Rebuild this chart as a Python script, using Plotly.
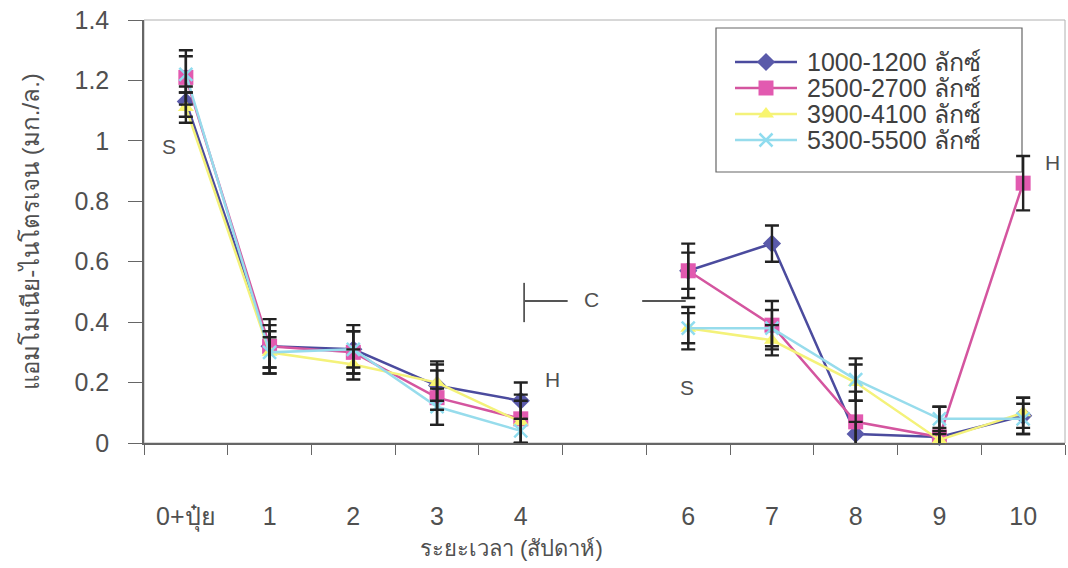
import plotly.graph_objects as go

categories = ["0+ปุ๋ย", "1", "2", "3", "4", "", "6", "7", "8", "9", "10"]
x_pos = list(range(len(categories)))

series_names = ["1000-1200 ลักซ์", "2500-2700 ลักซ์", "3900-4100 ลักซ์", "5300-5500 ลักซ์"]

s1 = [1.13, 0.32, 0.31, 0.19, 0.14, None, 0.57, 0.66, 0.03, 0.02, 0.09]
s2 = [1.21, 0.32, 0.30, 0.15, 0.08, None, 0.57, 0.39, 0.07, 0.02, 0.86]
s3 = [1.11, 0.30, 0.26, 0.20, 0.07, None, 0.38, 0.34, 0.20, 0.01, 0.10]
s4 = [1.22, 0.30, 0.31, 0.12, 0.04, None, 0.38, 0.38, 0.21, 0.08, 0.08]

e1 = [0.05, 0.07, 0.08, 0.08, 0.06, None, 0.09, 0.06, 0.04, 0.03, 0.06]
e2 = [0.09, 0.09, 0.07, 0.09, 0.08, None, 0.06, 0.08, 0.10, 0.10, 0.09]
e3 = [0.05, 0.05, 0.05, 0.06, 0.07, None, 0.05, 0.05, 0.06, 0.02, 0.05]
e4 = [0.06, 0.07, 0.06, 0.06, 0.04, None, 0.07, 0.06, 0.07, 0.04, 0.05]

y_ticks = [0, 0.2, 0.4, 0.6, 0.8, 1.0, 1.2, 1.4]
y_tick_text = ["0", "0.2", "0.4", "0.6", "0.8", "1", "1.2", "1.4"]

values = [s1, s2, s3, s4]
errors = [e1, e2, e3, e4]
line_colors = ["#4b4b9e", "#d4559f", "#f4f27a", "#97dcec"]
marker_colors = ["#5a5aaa", "#e25ab0", "#f8f570", "#8fdcef"]
symbols = ["diamond", "square", "triangle-up", "x-thin"]
msizes = [14, 15, 14, 13]

# annotation labels: (text, x, y)
notes = [("S", -0.2, 0.98), ("H", 4.38, 0.21), ("S", 5.99, 0.185), ("H", 10.35, 0.93), ("C", 4.84, 0.475)]
bracket_y = 0.47
bracket_left = [4.04, 4.56]
bracket_right = [5.45, 5.97]
bracket_v = [0.40, 0.53]

# plot-area pixel geometry
W, H = 1068, 568
ML, MR, MT, MB = 144, 3, 20, 125
PW, PH = W - ML - MR, H - MT - MB

# manual legend geometry (pixels)
leg_box = (716, 1022, 28, 172)
leg_rows = [62, 88, 114, 140]
leg_line = (735, 797)
leg_text_x = 805

def px_x(p):
    return (p - ML) / PW

def px_y(p):
    return (H - MB - p) / PH

TXT = "#505050"
FONT = "Liberation Sans, Arial, sans-serif"

fig = go.Figure()
for name, v, lc, mc, sym, ms in zip(series_names, values, line_colors, marker_colors, symbols, msizes):
    if sym == "x-thin":
        marker = dict(symbol=sym, size=ms, color=mc, line=dict(color=mc, width=2.5))
    else:
        marker = dict(symbol=sym, size=ms, color=mc, line=dict(width=0))
    fig.add_trace(go.Scatter(
        x=x_pos, y=v, name=name, mode="lines+markers",
        line=dict(color=lc, width=2.5), marker=marker,
        connectgaps=False, cliponaxis=False, showlegend=False,
    ))

for v, e in zip(values, errors):
    fig.add_trace(go.Scatter(
        x=x_pos, y=v, mode="markers", showlegend=False, hoverinfo="skip",
        marker=dict(size=1, opacity=0),
        error_y=dict(type="data", array=e, visible=True, color="#222222", thickness=2.4, width=7),
        cliponaxis=False,
    ))

# legend samples on an overlay axis in plot-area fractions
for i, (name, lc, mc, sym, ms) in enumerate(zip(series_names, line_colors, marker_colors, symbols, msizes)):
    yy = px_y(leg_rows[i])
    x0, x1 = px_x(leg_line[0]), px_x(leg_line[1])
    if sym == "x-thin":
        marker = dict(symbol=sym, size=ms, color=mc, line=dict(color=mc, width=2.5))
    else:
        marker = dict(symbol=sym, size=ms, color=mc, line=dict(width=0))
    fig.add_trace(go.Scatter(
        x=[x0, x1], y=[yy, yy], mode="lines",
        line=dict(color=lc, width=2.5), xaxis="x2", yaxis="y2",
        showlegend=False, hoverinfo="skip", cliponaxis=False,
    ))
    fig.add_trace(go.Scatter(
        x=[(x0 + x1) / 2], y=[yy], mode="markers", marker=marker,
        xaxis="x2", yaxis="y2", showlegend=False, hoverinfo="skip", cliponaxis=False,
    ))
    fig.add_annotation(xref="paper", yref="paper", x=px_x(leg_text_x), y=yy, text=name,
                       xanchor="left", yanchor="middle", showarrow=False,
                       font=dict(size=25, color="#404040", family=FONT))

fig.add_shape(type="rect", xref="paper", yref="paper",
              x0=px_x(leg_box[0]), x1=px_x(leg_box[1]), y0=px_y(leg_box[3]), y1=px_y(leg_box[2]),
              line=dict(color="#666666", width=1.2), fillcolor="white", layer="below")

for t, xx, yy in notes:
    fig.add_annotation(x=xx, y=yy, text=t, showarrow=False,
                       font=dict(size=21, color=TXT, family=FONT))

line_style = dict(color="#555555", width=1.8)
fig.add_shape(type="line", x0=bracket_left[0], x1=bracket_left[1], y0=bracket_y, y1=bracket_y, line=line_style)
fig.add_shape(type="line", x0=bracket_right[0], x1=bracket_right[1], y0=bracket_y, y1=bracket_y, line=line_style)
fig.add_shape(type="line", x0=bracket_left[0], x1=bracket_left[0], y0=bracket_v[0], y1=bracket_v[1], line=line_style)

fig.add_shape(type="rect", xref="paper", yref="paper", x0=0, x1=1, y0=0, y1=1,
              line=dict(color="#b0b0b0", width=1), layer="below")

fig.add_annotation(xref="paper", yref="paper", x=px_x(511), y=px_y(548), text="ระยะเวลา (สัปดาห์)",
                   showarrow=False, yanchor="middle", font=dict(size=22, color=TXT, family=FONT))

fig.update_layout(
    width=W, height=H,
    margin=dict(l=ML, r=MR, t=MT, b=MB),
    paper_bgcolor="white", plot_bgcolor="white",
    font=dict(family=FONT, color=TXT, size=24),
    showlegend=False,
    xaxis=dict(
        range=[-0.5, 10.5], tickmode="array", tickvals=x_pos, ticktext=categories,
        ticks="", showgrid=False, zeroline=False,
        showline=True, linecolor="#666666", linewidth=1.5,
        ticklabelstandoff=50, tickfont=dict(size=25, color=TXT, family=FONT),
        minor=dict(tickmode="array", tickvals=[i - 0.5 for i in range(len(categories) + 1)],
                   ticks="outside", ticklen=10, tickcolor="#666666", tickwidth=1, showgrid=False),
    ),
    yaxis=dict(
        range=[0, 1.4], tickmode="array", tickvals=y_ticks, ticktext=y_tick_text,
        ticks="outside", ticklen=14, tickcolor="#666666", showgrid=False, zeroline=False,
        showline=True, linecolor="#666666", linewidth=1.5, ticklabelstandoff=14,
        tickfont=dict(size=25, color=TXT, family=FONT),
        title=dict(text="แอมโมเนีย-ไนโตรเจน (มก./ล.)", font=dict(size=24, color=TXT, family=FONT), standoff=28),
    ),
    xaxis2=dict(overlaying="x", range=[0, 1], visible=False, fixedrange=True),
    yaxis2=dict(overlaying="y", range=[0, 1], visible=False, fixedrange=True),
)

fig.write_html("out.html")
